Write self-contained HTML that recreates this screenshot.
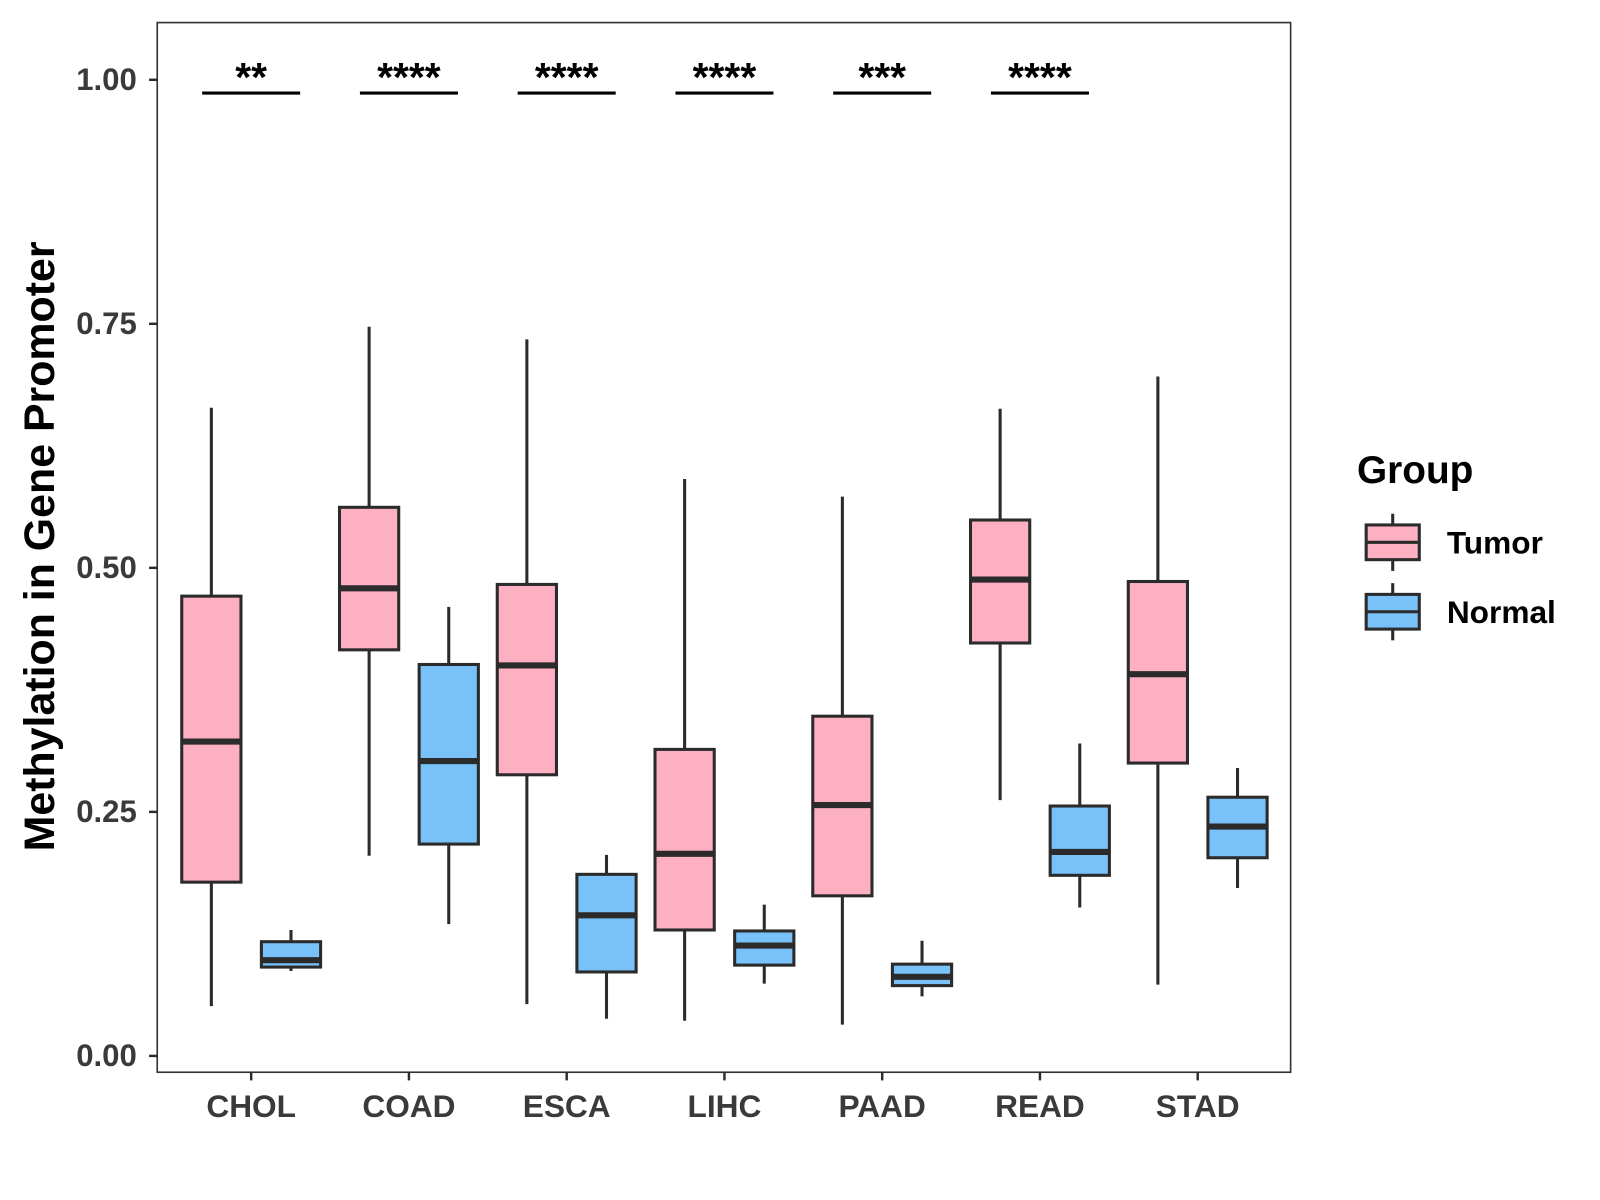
<!DOCTYPE html>
<html><head><meta charset="utf-8"><style>
html,body{margin:0;padding:0;background:#fff;}
svg{display:block;font-family:"Liberation Sans",Arial,sans-serif;}
</style></head><body>
<svg id="chart" width="1600" height="1200" viewBox="0 0 1567 1175" xmlns="http://www.w3.org/2000/svg">
<g id="plot"></g>
</svg>
<script>
const categories=["CHOL","COAD","ESCA","LIHC","PAAD","READ","STAD"];
// [lowWhisker, q1, median, q3, highWhisker]
const tumorStats=[[0.051,0.178,0.322,0.471,0.664],[0.205,0.416,0.479,0.562,0.747],[0.053,0.288,0.400,0.483,0.734],[0.036,0.129,0.207,0.314,0.591],[0.032,0.164,0.257,0.348,0.573],[0.262,0.423,0.488,0.549,0.663],[0.073,0.300,0.391,0.486,0.696]];
const normalStats=[[0.087,0.091,0.098,0.117,0.129],[0.135,0.217,0.302,0.401,0.460],[0.038,0.086,0.144,0.186,0.206],[0.074,0.093,0.113,0.128,0.155],[0.061,0.072,0.081,0.094,0.118],[0.152,0.185,0.209,0.256,0.320],[0.172,0.203,0.235,0.265,0.295]];
const sigLabels=["**","****","****","****","***","****",""];
const yTicks=[0,0.25,0.5,0.75,1.0];
const yTickLabels=["0.00","0.25","0.50","0.75","1.00"];

const NS="http://www.w3.org/2000/svg";
const g=document.getElementById('plot');
function mk(tag,attrs,parent){const e=document.createElementNS(NS,tag);for(const k in attrs)e.setAttribute(k,attrs[k]);(parent||g).appendChild(e);return e;}
const PL=154,PR=1264,PT=22,PB=1050;
function y(v){return 1034-v*956;}
function x(i){return 246+i*154.5;}
const dark="#2b2b2b",tickCol="#3a3a3a";

let e=mk('rect',{x:PL,y:PT,width:PR-PL,height:PB-PT,fill:'none',stroke:'#333','stroke-width':1.6});



yTicks.forEach((t,i)=>{
  let l=mk('line',{x1:PL-8,x2:PL,y1:y(t),y2:y(t),stroke:dark,'stroke-width':2.4});
  
  
  let tx=mk('text',{x:PL-20,y:y(t)+10,'text-anchor':'end','font-size':30.5,'font-weight':'bold',fill:tickCol});
  tx.textContent=yTickLabels[i];
  
  
});
categories.forEach((c,i)=>{
  let l=mk('line',{x1:x(i),x2:x(i),y1:PB,y2:PB+8,stroke:dark,'stroke-width':2.4});
  
  
  let tx=mk('text',{x:x(i),y:PB+44,'text-anchor':'middle','font-size':31,'font-weight':'bold',fill:tickCol});
  tx.textContent=c;
  
  
});

function box(cx,s,fill,name){
  const w=58,bg=mk('g',{});
  
  
  mk('line',{x1:cx,x2:cx,y1:y(s[0]),y2:y(s[4]),stroke:dark,'stroke-width':3},bg);
  mk('rect',{x:cx-w/2,y:y(s[3]),width:w,height:y(s[1])-y(s[3]),fill:fill,stroke:dark,'stroke-width':3},bg);
  mk('line',{x1:cx-w/2,x2:cx+w/2,y1:y(s[2]),y2:y(s[2]),stroke:dark,'stroke-width':6},bg);
}
categories.forEach((c,i)=>{
  box(x(i)-39,tumorStats[i],'#FDB0C2','tumor-box-'+c.toLowerCase());
  box(x(i)+39,normalStats[i],'#79C1F9','normal-box-'+c.toLowerCase());
  if(sigLabels[i]){
    let l=mk('line',{x1:x(i)-48,x2:x(i)+48,y1:91,y2:91,stroke:'#000','stroke-width':3});
    
    
    let t=mk('text',{x:x(i),y:89,'text-anchor':'middle','font-size':40,'font-weight':'bold',fill:'#000'});
    t.textContent=sigLabels[i];
    
    
  }
});

let yt=mk('text',{x:0,y:0,transform:'translate(53,535) rotate(-90)','text-anchor':'middle','font-size':42,'font-weight':'bold',fill:'#000'});
yt.textContent='Methylation in Gene Promoter';



let lt=mk('text',{x:1329,y:473,'font-size':38,'font-weight':'bold',fill:'#000'});
lt.textContent='Group';


[['Tumor','#FDB0C2',531],['Normal','#79C1F9',599]].forEach(([lab,col,cy])=>{
  const lg=mk('g',{});
  
  
  mk('line',{x1:1364,x2:1364,y1:cy-28,y2:cy+28,stroke:dark,'stroke-width':3},lg);
  mk('rect',{x:1338,y:cy-17,width:52,height:34,fill:col,stroke:dark,'stroke-width':3},lg);
  mk('line',{x1:1338,x2:1390,y1:cy,y2:cy,stroke:dark,'stroke-width':3},lg);
  const t=mk('text',{x:1417,y:cy+11,'font-size':31,'font-weight':'bold',fill:'#000'},lg);
  t.textContent=lab;
});
</script>
</body></html>
